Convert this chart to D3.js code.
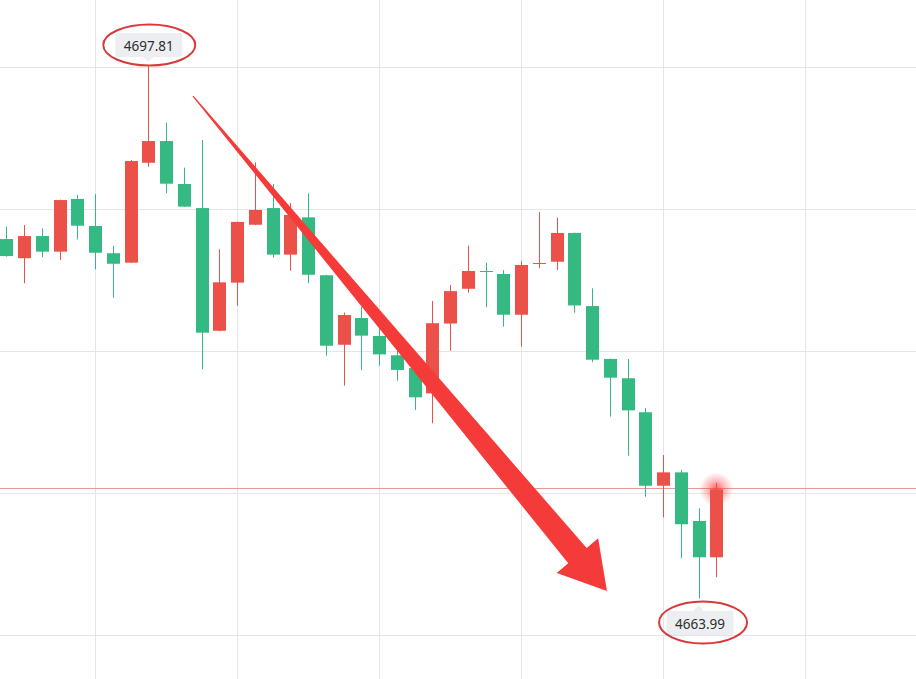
<!DOCTYPE html>
<html>
<head>
<meta charset="utf-8">
<script src="https://cdn.jsdelivr.net/npm/d3@7"></script>
<style>
  html, body { margin: 0; padding: 0; background: #ffffff; }
  svg { display: block; }
</style>
</head>
<body>
<svg id="chart" width="916" height="679"></svg>
<script>
// ---- data ----
const opens  = [4686.84,4685.62,4687.03,4686.04,4689.39,4687.67,4685.94,4685.34,4691.69,4693.07,
                4690.34,4688.81,4681.01,4684.07,4687.75,4688.81,4685.85,4688.22,4684.54,4680.12,
                4681.82,4680.68,4679.45,4678.64,4677.03,4681.47,4683.68,4684.81,4684.62,4682.03,
                4685.30,4685.40,4687.23,4682.58,4679.22,4677.99,4675.83,4671.16,4672.01,4668.92,
                4666.61];
const highs  = [4687.63,4687.73,4687.52,4689.35,4689.64,4689.70,4686.40,4691.87,4697.81,4694.24,
                4691.38,4693.14,4686.19,4687.95,4691.72,4690.34,4689.13,4689.75,4684.57,4682.16,
                4682.54,4681.38,4679.92,4679.15,4682.90,4683.92,4686.42,4685.34,4684.87,4685.45,
                4688.56,4688.20,4687.25,4683.71,4679.24,4679.22,4676.10,4673.11,4672.16,4669.72,
                4671.35];
const lows   = [4685.72,4684.03,4685.68,4685.51,4686.82,4684.92,4683.11,4685.32,4691.44,4689.75,
                4688.88,4678.56,4680.98,4682.60,4687.73,4685.66,4684.83,4684.03,4679.43,4677.52,
                4678.52,4678.79,4677.84,4675.97,4675.13,4679.74,4683.43,4682.50,4681.27,4680.00,
                4684.98,4684.87,4682.16,4679.01,4675.55,4673.07,4670.46,4669.15,4666.55,4663.99,
                4665.34];
const closes = [4685.76,4687.03,4686.04,4689.32,4687.69,4685.97,4685.27,4691.80,4693.07,4690.36,
                4688.90,4680.89,4684.09,4687.93,4688.69,4685.85,4688.37,4684.57,4680.06,4682.01,
                4680.70,4679.51,4678.52,4676.78,4681.49,4683.53,4684.81,4684.78,4682.03,4685.19,
                4685.32,4687.23,4682.62,4679.17,4678.03,4675.95,4671.16,4672.01,4668.71,4666.61,
                4670.93];
// grid lines (price levels and bar indices)
const gridPrices  = [4697.78, 4688.75, 4679.72, 4670.70, 4661.67];
const gridIndices = [5, 13, 21, 29, 37, 45];
// trend arrow annotation, in data space: [barIndex, price]
const arrowStart = [10.52, 4695.93];
const arrowTip   = [33.84, 4664.47];

// ---- style ----
const UP = "#eb5148", DOWN = "#34b982";
const W = 916, H = 679;

const svg = d3.select("#chart");
const x = d3.scaleLinear().domain([0, 40]).range([6.3, 716.3]);
const y = d3.scaleLinear().domain([4663.99, 4697.81]).range([598.5, 66.5]);

const candles = opens.map((o, i) => ({ i, o, h: highs[i], l: lows[i], c: closes[i] }));
const crisp = v => Math.round(v) + 0.5;

// grid
const grid = svg.append("g");
grid.selectAll("line.h").data(gridPrices).join("line")
  .attr("x1", 0).attr("x2", W)
  .attr("y1", d => crisp(y(d))).attr("y2", d => crisp(y(d)))
  .attr("stroke", "#e5e5e5").attr("stroke-width", 1);
grid.selectAll("line.v").data(gridIndices).join("line")
  .attr("y1", 0).attr("y2", H)
  .attr("x1", d => crisp(x(d))).attr("x2", d => crisp(x(d)))
  .attr("stroke", "#e5e5e5").attr("stroke-width", 1);

// last price line
const last = candles[candles.length - 1];
svg.append("line")
  .attr("x1", 0).attr("x2", W)
  .attr("y1", crisp(y(last.c)) - 1).attr("y2", crisp(y(last.c)) - 1)
  .attr("stroke", "#e99a90").attr("stroke-width", 1);

// glow at last price
const defs = svg.append("defs");
const rg = defs.append("radialGradient").attr("id", "glow");
rg.append("stop").attr("offset", "0%").attr("stop-color", "#ff3636").attr("stop-opacity", 0.8);
rg.append("stop").attr("offset", "50%").attr("stop-color", "#ff3b3b").attr("stop-opacity", 0.35);
rg.append("stop").attr("offset", "100%").attr("stop-color", "#ff3b3b").attr("stop-opacity", 0);
svg.append("circle")
  .attr("cx", x(last.i)).attr("cy", y(last.c)).attr("r", 17)
  .attr("fill", "url(#glow)");

// candles
const cg = svg.append("g");
const bw = 13;
cg.selectAll("line.wick").data(candles).join("line")
  .attr("x1", d => crisp(x(d.i))).attr("x2", d => crisp(x(d.i)))
  .attr("y1", d => y(d.h)).attr("y2", d => y(d.l))
  .attr("stroke", d => d.c >= d.o ? UP : DOWN).attr("stroke-width", 1);
cg.selectAll("rect.body").data(candles).join("rect")
  .attr("x", d => Math.round(x(d.i)) - 6)
  .attr("width", bw)
  .attr("y", d => y(Math.max(d.o, d.c)))
  .attr("height", d => Math.max(1, Math.abs(y(d.o) - y(d.c))))
  .attr("fill", d => d.c >= d.o ? UP : DOWN);

// trend arrow (tapered)
(function drawArrow() {
  const sx = x(arrowStart[0]), sy = y(arrowStart[1]);
  const tx = x(arrowTip[0]), ty = y(arrowTip[1]);
  const dx = tx - sx, dy = ty - sy, len = Math.hypot(dx, dy);
  const ux = dx / len, uy = dy / len, nx = -uy, ny = ux;
  const headLen = 46, headHalf = 27, w0 = 0.6, w1 = 12;
  const bx = tx - ux * headLen, by = ty - uy * headLen;
  const pts = [
    [sx + nx * w0, sy + ny * w0],
    [bx + nx * w1, by + ny * w1],
    [bx + nx * headHalf, by + ny * headHalf],
    [tx, ty],
    [bx - nx * headHalf, by - ny * headHalf],
    [bx - nx * w1, by - ny * w1],
    [sx - nx * w0, sy - ny * w0]
  ];
  svg.append("path")
    .attr("d", d3.line()(pts) + "Z")
    .attr("fill", "#f43b3a");
})();

// price labels
function priceLabel(c, value, below) {
  const cx = x(c.i);
  const wy = y(value);
  const g = svg.append("g");
  const bw2 = 67, bh = 24;
  let boxTop, tri;
  if (!below) {
    boxTop = wy - 9.5 - bh;
    tri = [[cx - 5, boxTop + bh], [cx + 5, boxTop + bh], [cx, boxTop + bh + 5]];
  } else {
    boxTop = wy + 12.5;
    tri = [[cx - 5, boxTop], [cx + 5, boxTop], [cx, boxTop - 6]];
  }
  const bx = below ? cx - 32 : cx - 33;
  g.append("rect").attr("x", bx).attr("y", boxTop).attr("width", bw2).attr("height", bh)
    .attr("rx", 2).attr("fill", "#eceef1");
  g.append("path").attr("d", d3.line()(tri) + "Z").attr("fill", "#eceef1");
  g.append("text").attr("x", bx + bw2 / 2).attr("y", boxTop + bh / 2 + 0.5)
    .attr("text-anchor", "middle").attr("dominant-baseline", "central")
    .attr("font-family", "'Noto Sans', 'Liberation Sans', sans-serif")
    .attr("font-size", 13.5).attr("fill", "#2e2e2e")
    .text(d3.format(".2f")(value));
  const ecx = bx + bw2 / 2 + (below ? 3 : 0.5);
  const ecy = boxTop + bh / 2 + (below ? -0.5 : 0);
  g.append("ellipse").attr("cx", ecx).attr("cy", ecy)
    .attr("rx", below ? 44 : 46).attr("ry", below ? 21 : 20.5)
    .attr("fill", "none").attr("stroke", "#d83a3c").attr("stroke-width", 2);
}
const hiIdx = d3.maxIndex(highs), loIdx = d3.minIndex(lows);
priceLabel(candles[hiIdx], highs[hiIdx], false);
priceLabel(candles[loIdx], lows[loIdx], true);
</script>
</body>
</html>
